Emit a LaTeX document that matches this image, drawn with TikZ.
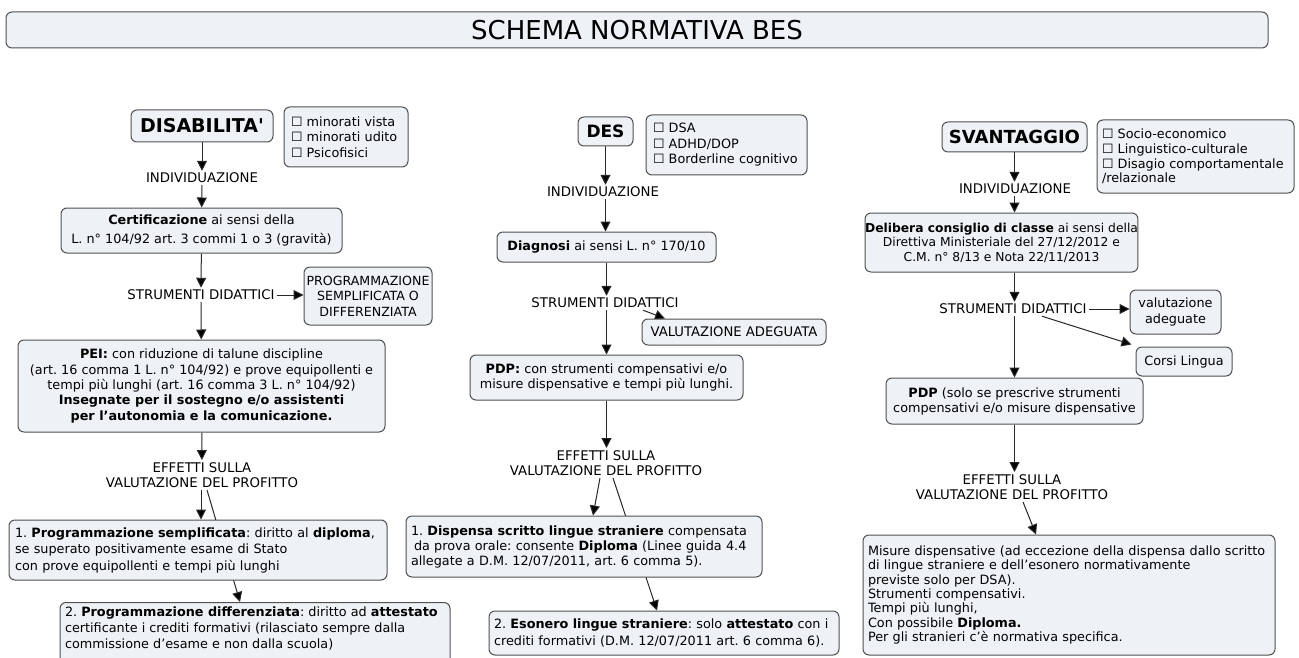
\documentclass[tikz,border=0pt]{standalone}
\usepackage{fontspec}
\setmainfont{DejaVu Sans}[Ligatures=TeXOff]
\usetikzlibrary{arrows.meta}
\definecolor{boxc}{RGB}{238,242,246}
\definecolor{bordc}{RGB}{80,80,80}
\definecolor{linec}{RGB}{40,40,40}
\newcommand\fz[2]{\fontsize{#1pt}{#2pt}\selectfont}
\frenchspacing
\pgfdeclarelayer{back}
\pgfdeclarelayer{bg}
\pgfsetlayers{back,bg,main}
\tikzset{
 box/.style={draw=bordc, fill=boxc, rounded corners=6pt, line width=1pt, inner sep=0pt, align=center, font=\fz{12.8}{15}},
 hdr/.style={box, font=\bfseries\fz{19}{22}},
 lbl/.style={inner sep=2pt, align=center, font=\fz{13.3}{15.5}},
 arr/.style={draw=linec, line width=1pt, -{Triangle[width=10pt,length=10pt,fill=black]}},
}
\begin{document}
\begin{tikzpicture}[x=1pt,y=-1pt]
\useasboundingbox (0,0) rectangle (1299,658);
\clip (0,0) rectangle (1299,658);
\begin{pgfonlayer}{back}
\fill[white] (0,0) rectangle (1299,658);
\end{pgfonlayer}

\node[box, minimum width=1262pt, minimum height=36pt, font=\fz{26}{30}] (title) at (637,30) {SCHEMA NORMATIVA BES};

% ---------- left column ----------
\node[hdr, minimum width=142pt, minimum height=32pt] (dis) at (202,126) {DISABILITA'};
\node[box, minimum width=124pt, minimum height=60pt, text width=110pt, align=left, font=\fz{12.8}{15.5}] (dlist) at (346,137) {☐ minorati vista\\☐ minorati udito\\☐ Psicofisici};
\node[lbl] (ind1) at (202,178) {INDIVIDUAZIONE};
\node[box, minimum width=281pt, minimum height=45pt, font=\fz{12.8}{18.5}] (cert) at (201.5,230.5) {\textbf{Certificazione} ai sensi della\\L. n° 104/92 art. 3 commi 1 o 3 (gravità)};
\node[lbl] (str1) at (201,295) {STRUMENTI DIDATTICI};
\node[box, minimum width=128pt, minimum height=58pt, font=\fz{12.6}{15.5}] (prog) at (368,296) {PROGRAMMAZIONE\\SEMPLIFICATA O\\DIFFERENZIATA};
\node[box, minimum width=367pt, minimum height=92pt, font=\fz{12.8}{15.3}] (pei) at (201.5,386) {\textbf{PEI:} con riduzione di talune discipline\\(art. 16 comma 1 L. n° 104/92) e prove equipollenti e\\tempi più lunghi (art. 16 comma 3 L. n° 104/92)\\\textbf{Insegnate per il sostegno e/o assistenti}\\\textbf{per l’autonomia e la comunicazione.}};
\node[lbl] (eff1) at (202,475) {EFFETTI SULLA\\VALUTAZIONE DEL PROFITTO};
\node[box, minimum width=378pt, minimum height=60pt, text width=366pt, align=left, font=\fz{12.8}{16.5}] (b1l) at (198,550) {1. \textbf{Programmazione semplificata}: diritto al \textbf{diploma},\\se superato positivamente esame di Stato\\con prove equipollenti e tempi più lunghi};
\node[box, anchor=north, inner xsep=5pt, inner ysep=4pt, align=left, font=\fz{12.8}{16}] (b2l) at (255,602) {\parbox[t][70pt][t]{380pt}{2. \textbf{Programmazione differenziata}: diritto ad \textbf{attestato}\\certificante i crediti formativi (rilasciato sempre dalla\\commissione d’esame e non dalla scuola)}};

% ---------- middle column ----------
\node[hdr, minimum width=55pt, minimum height=29pt, font=\bfseries\fz{17}{20}] (des) at (605.5,131.5) {DES};
\node[box, minimum width=161pt, minimum height=60pt, text width=147pt, align=left, font=\fz{12.8}{15.5}] (deslist) at (726.5,145) {☐ DSA\\☐ ADHD/DOP\\☐ Borderline cognitivo};
\node[lbl] (ind2) at (603,192) {INDIVIDUAZIONE};
\node[box, minimum width=219pt, minimum height=30pt] (diag) at (606.5,247) {\textbf{Diagnosi} ai sensi L. n° 170/10};
\node[lbl] (str2) at (605,303) {STRUMENTI DIDATTICI};
\node[box, minimum width=184pt, minimum height=26pt, font=\fz{13.2}{15}] (valad) at (734,332) {VALUTAZIONE ADEGUATA};
\node[box, minimum width=273pt, minimum height=45pt, font=\fz{12.8}{14.5}] (pdp2) at (606.5,377.5) {\textbf{PDP:} con strumenti compensativi e/o\\misure dispensative e tempi più lunghi.};
\node[lbl] (eff2) at (606,463) {EFFETTI SULLA\\VALUTAZIONE DEL PROFITTO};
\node[box, minimum width=356pt, minimum height=61pt, text width=346pt, align=left, font=\fz{12.8}{15}] (b1m) at (584,546.5) {1. \textbf{Dispensa scritto lingue straniere} compensata\\\hspace*{3pt}da prova orale: consente \textbf{Diploma} (Linee guida 4.4\\allegate a D.M. 12/07/2011, art. 6 comma 5).};
\node[box, minimum width=350pt, minimum height=44pt, text width=340pt, align=left, font=\fz{12.8}{17}] (b2m) at (664,633) {2. \textbf{Esonero lingue straniere}: solo \textbf{attestato} con i\\crediti formativi (D.M. 12/07/2011 art. 6 comma 6).};

% ---------- right column ----------
\node[hdr, minimum width=145pt, minimum height=30pt, font=\bfseries\fz{18}{21}] (svan) at (1014.5,137) {SVANTAGGIO};
\node[box, minimum width=197pt, minimum height=73pt, text width=187pt, align=left, font=\fz{12.8}{14.7}] (slist) at (1195.5,156.5) {☐ Socio-economico\\☐ Linguistico-culturale\\☐ Disagio comportamentale\\/relazionale};
\node[lbl] (ind3) at (1015,189) {INDIVIDUAZIONE};
\node[box, minimum width=213pt, minimum height=59pt, font=\fz{12.3}{14.5}] (del) at (1001.5,242.5) {\textbf{Delibera consiglio di classe} ai sensi della\\Direttiva Ministeriale del 27/12/2012 e\\C.M. n° 8/13 e Nota 22/11/2013};
\node[lbl] (str3) at (1013,309) {STRUMENTI DIDATTICI};
\node[box, minimum width=91pt, minimum height=44pt, font=\fz{12.8}{15.5}] (valr) at (1175.5,312) {valutazione\\adeguate};
\node[box, minimum width=96pt, minimum height=29pt] (corsi) at (1184,361.5) {Corsi Lingua};
\node[box, minimum width=257pt, minimum height=46pt, font=\fz{12.8}{15}] (pdp3) at (1014.5,401) {\textbf{PDP} (solo se prescrive strumenti\\compensativi e/o misure dispensative};
\node[lbl] (eff3) at (1012,487) {EFFETTI SULLA\\VALUTAZIONE DEL PROFITTO};
\node[box, minimum width=412pt, minimum height=120pt, text width=402pt, align=left, font=\fz{12.8}{14.3}] (fin) at (1069,595) {Misure dispensative (ad eccezione della dispensa dallo scritto\\di lingue straniere e dell’esonero normativamente\\previste solo per DSA).\\Strumenti compensativi.\\Tempi più lunghi,\\Con possibile \textbf{Diploma.}\\Per gli stranieri c’è normativa specifica.};

% ---------- connectors ----------
\begin{pgfonlayer}{bg}
\draw[arr] (dis) -- (ind1);
\draw[arr] (ind1) -- (cert);
\draw[arr] (cert) -- (str1);
\draw[arr] (str1.east) -- (prog.west |- str1.east);
\draw[arr] (str1) -- (pei);
\draw[arr] (pei) -- (eff1);
\draw[arr] ([xshift=-1pt]eff1.south) -- ([xshift=-1pt]eff1.south |- b1l.north);
\draw[arr] ([xshift=5pt]eff1.south) -- ([xshift=-15pt]b2l.north);

\draw[arr] (des) -- (des |- ind2.north);
\draw[arr] (ind2.south -| des) -- (des |- diag.north);
\draw[arr] (diag) -- (diag |- str2.north);
\draw[arr] (str2.south -| diag) -- (diag |- pdp2.north);
\draw[arr] ([xshift=38pt]str2.south) -- ([xshift=-69pt]valad.north);
\draw[arr] (pdp2) -- (pdp2 |- eff2.north);
\draw[arr] ([xshift=-6pt]eff2.south) -- ([xshift=9pt]b1m.north);
\draw[arr] ([xshift=7pt]eff2.south) -- ([xshift=-7pt]b2m.north);

\draw[arr] (svan) -- (svan |- ind3.north);
\draw[arr] (ind3.south -| svan) -- (svan |- del.north);
\draw[arr] (del.south -| svan) -- (svan |- str3.north);
\draw[arr] (str3.east) -- (valr.west |- str3.east);
\draw[arr] ([xshift=29pt]str3.south) -- ([xshift=-4pt,yshift=2pt]corsi.north west);
\draw[arr] (str3.south -| svan) -- (svan |- pdp3.north);
\draw[arr] (pdp3) -- (pdp3 |- eff3.north);
\draw[arr] ([xshift=11pt]eff3.south) -- ([xshift=-33pt]fin.north);
\end{pgfonlayer}
\end{tikzpicture}
\end{document}
